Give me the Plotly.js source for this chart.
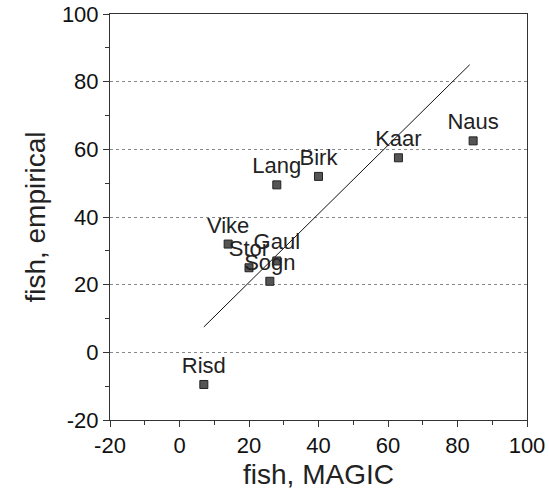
<!DOCTYPE html>
<html>
<head>
<meta charset="utf-8">
<script src="https://cdn.plot.ly/plotly-3.0.1.min.js"></script>
<style>html,body{margin:0;padding:0;background:#fff;}#chart{width:549px;height:493px;}</style>
</head>
<body>
<div id="chart"></div>
<script>
const sites = ["Risd", "Vike", "Stor", "Gaul", "Sogn", "Lang", "Birk", "Kaar", "Naus"];
const fishMagic = [7, 14, 20, 28, 26, 28, 40, 63, 84.5];
const fishEmpirical = [-9.5, 32, 25, 27, 21, 49.5, 52, 57.5, 62.5];
const fitX = [7, 83.5];
const fitY = [7.5, 85];
const tickVals = [-20, 0, 20, 40, 60, 80, 100];
const tickText = ["-20", "0", "20", "40", "60", "80", "100"];

const font = "Liberation Sans, Arial, Helvetica, sans-serif";

const data = [
  {
    x: fitX, y: fitY, mode: "lines", type: "scatter",
    line: {color: "#111", width: 1}, hoverinfo: "skip", showlegend: false
  },
  {
    x: fishMagic, y: fishEmpirical, text: sites, mode: "markers+text", type: "scatter",
    textposition: "top center",
    textfont: {family: font, size: 22, color: "#222"},
    marker: {symbol: "square", size: 8, color: "#555", line: {color: "#222", width: 1}},
    showlegend: false
  }
];

const axisCommon = {
  range: [-20, 100],
  tickmode: "array", tickvals: tickVals, ticktext: tickText,
  ticks: "outside", ticklen: 6, tickwidth: 1, tickcolor: "#333",
  showline: true, linecolor: "#333", linewidth: 1, mirror: true,
  zeroline: false,
  tickfont: {family: font, size: 22, color: "#111"},
  minor: {dtick: 10, ticks: "outside", ticklen: 4, tickcolor: "#333", showgrid: false}
};

const layout = {
  width: 549, height: 493,
  margin: {l: 110, r: 22, t: 14, b: 73},
  paper_bgcolor: "#fff", plot_bgcolor: "#fff",
  xaxis: Object.assign({}, axisCommon, {
    showgrid: false,
    title: {text: "fish, MAGIC", font: {family: font, size: 28, color: "#222"}, standoff: 6}
  }),
  yaxis: Object.assign({}, axisCommon, {
    showgrid: true, gridcolor: "#888", griddash: "dot", gridwidth: 1,
    title: {text: "fish, empirical", font: {family: font, size: 28, color: "#222"}, standoff: 8}
  })
};

Plotly.newPlot("chart", data, layout, {staticPlot: true, displayModeBar: false});
</script>
</body>
</html>
